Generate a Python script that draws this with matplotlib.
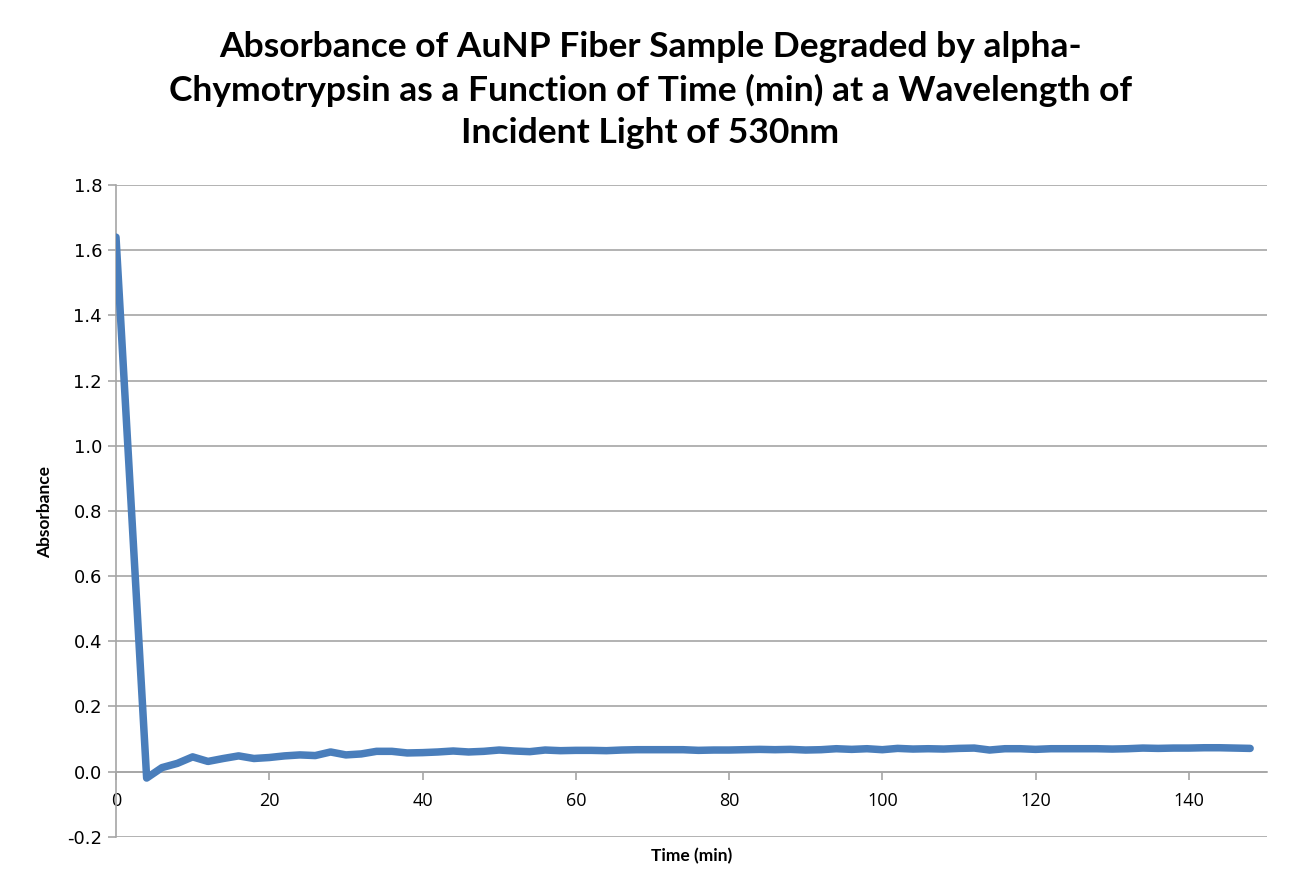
import matplotlib
matplotlib.use("Agg")
import matplotlib.pyplot as plt
import numpy as np

time_min = list(range(0, 150, 2))
absorbance = [
    1.64, 0.81, -0.02, 0.012, 0.025, 0.045, 0.031, 0.040, 0.048, 0.040,
    0.043, 0.048, 0.051, 0.049, 0.060, 0.051, 0.054, 0.062, 0.062, 0.057,
    0.058, 0.060, 0.063, 0.060, 0.062, 0.066, 0.063, 0.061, 0.066, 0.064,
    0.065, 0.065, 0.064, 0.066, 0.067, 0.067, 0.067, 0.067, 0.065, 0.066,
    0.066, 0.067, 0.068, 0.067, 0.068, 0.066, 0.067, 0.070, 0.068, 0.070,
    0.067, 0.071, 0.069, 0.070, 0.069, 0.071, 0.072, 0.066, 0.070, 0.070,
    0.068, 0.070, 0.070, 0.070, 0.070, 0.069, 0.070, 0.072, 0.071, 0.072,
    0.072, 0.073, 0.073, 0.072, 0.071,
]
x_ticks = [0, 20, 40, 60, 80, 100, 120, 140]
y_ticks = [-0.2, 0.0, 0.2, 0.4, 0.6, 0.8, 1.0, 1.2, 1.4, 1.6, 1.8]

title = ("Absorbance of AuNP Fiber Sample Degraded by alpha-\n"
         "Chymotrypsin as a Function of Time (min) at a Wavelength of\n"
         "Incident Light of 530nm")

fig = plt.figure(figsize=(13.08, 8.96), dpi=100)
ax = fig.add_axes([116/1308, 1 - 836.7/896, (1267-116)/1308, (836.7-185)/896])

grid_c = "#A6A6A6"
for yv in y_ticks:
    ax.axhline(yv, color=grid_c, lw=1.2, zorder=1)

ax.plot(time_min, absorbance, color="#4A7EBB", lw=5.4,
        solid_joinstyle="round", solid_capstyle="round", zorder=3)

ax.set_xlim(0, 150.2)
ax.set_ylim(-0.2, 1.8)
ax.set_xticks(x_ticks)
ax.set_yticks(y_ticks)
ax.set_yticklabels([f"{v:.1f}" for v in y_ticks])
ax.set_xticklabels([str(v) for v in x_ticks])

for s in ["top", "right"]:
    ax.spines[s].set_visible(False)
ax.spines["bottom"].set_position(("data", 0))
ax.spines["bottom"].set_color(grid_c)
ax.spines["left"].set_color(grid_c)
ax.spines["bottom"].set_linewidth(1.2)
ax.spines["left"].set_linewidth(1.2)
ax.tick_params(axis="both", direction="out", length=6, width=1.2, color=grid_c)
ax.tick_params(axis="x", labelsize=13, pad=9)
ax.tick_params(axis="y", labelsize=13, pad=4)
for t in ax.get_xticklabels():
    t.set_family("Open Sans")
for t in ax.get_yticklabels():
    t.set_family("DejaVu Sans")

fig.text(0.497, 1 - 90/896, title, ha="center", va="center",
         fontsize=25.5, fontweight="bold", family="Lato", linespacing=1.4)
fig.text((116+1267)/2/1308, 1 - 856/896, "Time (min)", ha="center", va="center",
         fontsize=12.5, fontweight="bold", family="Lato")
fig.text(45/1308, 1 - 512/896, "Absorbance", ha="center", va="center",
         rotation=90, fontsize=12.5, fontweight="bold", family="Lato")

fig.savefig("out.png", dpi=100)
